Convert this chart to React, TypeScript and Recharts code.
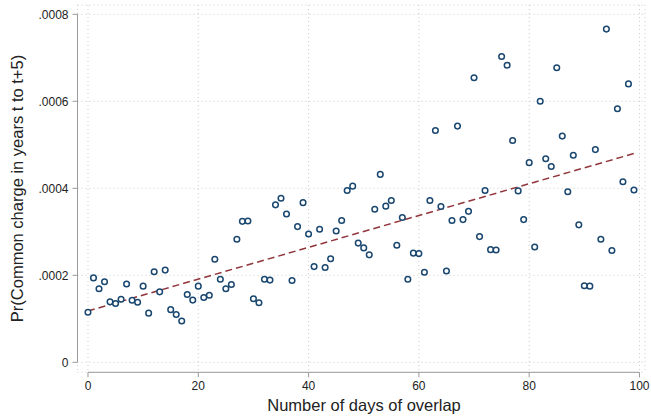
import { ScatterChart, Scatter, XAxis, YAxis, CartesianGrid, ReferenceLine, Label } from 'recharts';

const days = [
  0, 1, 2, 3, 4, 5, 6, 7, 8, 9,
  10, 11, 12, 13, 14, 15, 16, 17, 18, 19,
  20, 21, 22, 23, 24, 25, 26, 27, 28, 29,
  30, 31, 32, 33, 34, 35, 36, 37, 38, 39,
  40, 41, 42, 43, 44, 45, 46, 47, 48, 49,
  50, 51, 52, 53, 54, 55, 56, 57, 58, 59,
  60, 61, 62, 63, 64, 65, 66, 67, 68, 69,
  70, 71, 72, 73, 74, 75, 76, 77, 78, 79,
  80, 81, 82, 83, 84, 85, 86, 87, 88, 89,
  90, 91, 92, 93, 94, 95, 96, 97, 98, 99,
];

const prob = [
  0.000115, 0.000194, 0.000169, 0.000185, 0.000139, 0.000135, 0.000145, 0.00018, 0.0001425, 0.000138,
  0.000175, 0.000113, 0.000208, 0.000162, 0.000212, 0.000121, 0.00011, 0.000095, 0.000156, 0.000143,
  0.000175, 0.000149, 0.000154, 0.000237, 0.000191, 0.000169, 0.000179, 0.000283, 0.000324, 0.000325,
  0.000146, 0.000137, 0.000191, 0.000189, 0.000362, 0.000377, 0.000341, 0.000188, 0.000312, 0.000367,
  0.000295, 0.00022, 0.000306, 0.000218, 0.000238, 0.000302, 0.000326, 0.000395, 0.000405, 0.000274,
  0.000263, 0.000247, 0.000352, 0.000432, 0.000359, 0.000372, 0.000269, 0.000333, 0.000191, 0.000251,
  0.00025, 0.000207, 0.000372, 0.000533, 0.000358, 0.00021, 0.000326, 0.000543, 0.000328, 0.000347,
  0.000654, 0.000289, 0.000395, 0.000259, 0.000258, 0.000703, 0.000683, 0.00051, 0.000394, 0.000328,
  0.000459, 0.000265, 0.0006, 0.000468, 0.00045, 0.000677, 0.00052, 0.000392, 0.000476, 0.000316,
  0.000176, 0.000175, 0.000489, 0.000283, 0.000766, 0.000257, 0.000583, 0.000415, 0.00064, 0.000396,
];

// fitted line at both ends
const fitDays = [0, 99];
const fitProb = [0.000118, 0.00048];

const xTicks = [0, 20, 40, 60, 80, 100];
const yTicks = [0, 0.0002, 0.0004, 0.0006, 0.0008];

const xDomain = [-1.9, 101];
const yDomain = [-0.000023, 0.0008214];

const font = '"Liberation Sans", Arial, sans-serif';
const navy = '#1a476f';
const maroon = '#90353b';
const axisGray = '#9a9a9a';

const points = days.map((d, i) => ({ x: d, y: prob[i] }));

const fmtY = (v: number) => (v === 0 ? '0' : v.toFixed(4).replace(/^0/, ''));

const Hollow = (p: any) => (
  <circle cx={p.cx} cy={p.cy} r={2.8} fill="#fff" stroke={navy} strokeWidth={1.5} />
);

const App = () => {
  return (
    <div style={{ position: 'absolute', left: 0, top: 0, background: '#fff' }}>
      <ScatterChart width={651} height={416} margin={{ top: 5, right: 6, bottom: 0, left: 0 }}>
        <CartesianGrid strokeDasharray="1 3" stroke="#cccccc" />
        <XAxis
          type="number"
          dataKey="x"
          domain={xDomain}
          ticks={xTicks}
          allowDataOverflow
          height={43.7}
          axisLine={false}
          tickLine={{ stroke: axisGray }}
          tickSize={5}
          tickMargin={4}
          tick={{ fill: '#222', fontSize: 12, fontFamily: font }}
        >
          <Label
            content={() => (
              <text x={364} y={411} textAnchor="middle" fontSize={16.5} fontFamily={font} fill="#222">
                Number of days of overlap
              </text>
            )}
          />
        </XAxis>
        <YAxis
          type="number"
          dataKey="y"
          domain={yDomain}
          ticks={yTicks}
          allowDataOverflow
          width={77.5}
          axisLine={false}
          tickLine={{ stroke: axisGray }}
          tickSize={5}
          tickMargin={4}
          tickFormatter={fmtY}
          tick={{ fill: '#222', fontSize: 12, fontFamily: font }}
        >
          <Label
            content={() => (
              <text
                x={17}
                y={188.5}
                transform="rotate(-90, 17, 188.5)"
                textAnchor="middle"
                dominantBaseline="central"
                fontSize={16.5}
                fontFamily={font}
                fill="#222"
              >
                Pr(Common charge in years t to t+5)
              </text>
            )}
          />
        </YAxis>
        <ReferenceLine
          segment={[{ x: xTicks[0], y: yDomain[0] }, { x: xTicks[xTicks.length - 1], y: yDomain[0] }]}
          stroke={axisGray}
          strokeWidth={1}
          ifOverflow="visible"
        />
        <ReferenceLine
          segment={[{ x: xDomain[0], y: yTicks[0] }, { x: xDomain[0], y: yTicks[yTicks.length - 1] }]}
          stroke={axisGray}
          strokeWidth={1}
          ifOverflow="visible"
        />
        <Scatter data={points} shape={Hollow} isAnimationActive={false} />
        <ReferenceLine
          segment={[{ x: fitDays[0], y: fitProb[0] }, { x: fitDays[1], y: fitProb[1] }]}
          stroke={maroon}
          strokeWidth={1.5}
          strokeDasharray="7 4"
          ifOverflow="visible"
        />
      </ScatterChart>
    </div>
  );
};

export default App;
